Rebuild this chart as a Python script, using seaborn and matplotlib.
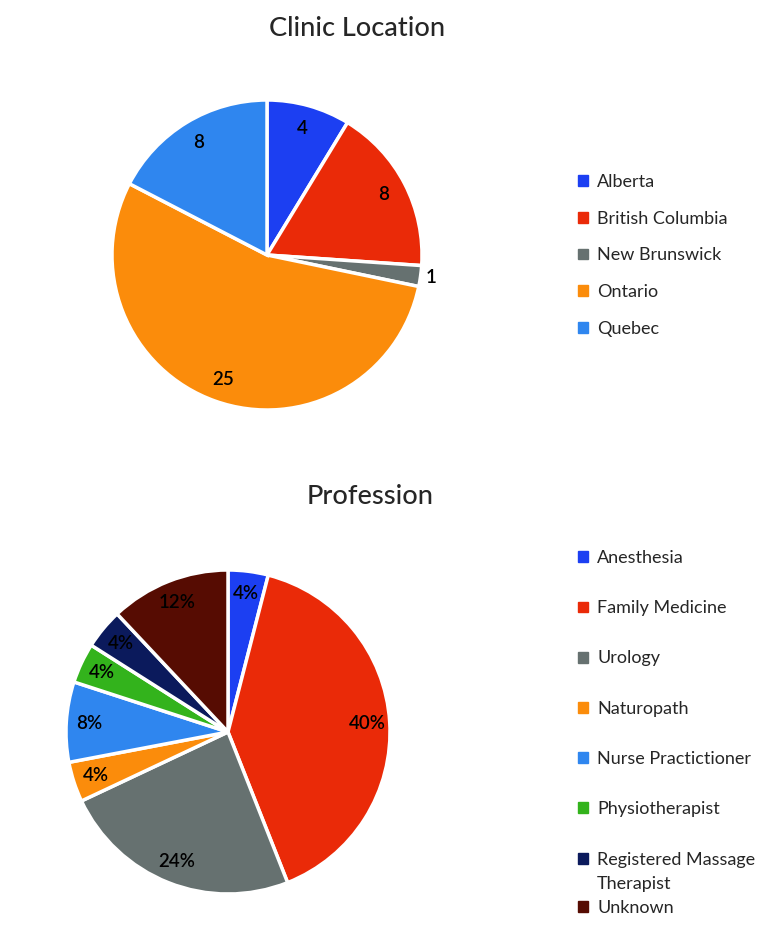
import matplotlib
matplotlib.use('Agg')

import matplotlib.pyplot as plt
import numpy as np
from matplotlib.patches import Patch

import seaborn as sns
sns.set_theme(style="white")
plt.rcParams['font.family'] = ['Lato', 'DejaVu Sans']

# data
provinces = ["Alberta", "British Columbia", "New Brunswick", "Ontario", "Quebec"]
province_counts = [4, 8, 1, 25, 8]
province_colors = ["#1c3ff2", "#ea2a08", "#667170", "#fb8c0b", "#2f86ef"]

professions = ["Anesthesia", "Family Medicine", "Urology", "Naturopath",
               "Nurse Practictioner", "Physiotherapist",
               "Registered Massage\nTherapist", "Unknown"]
profession_pct = [4, 40, 24, 4, 8, 4, 4, 12]
profession_colors = ["#1c3ff2", "#ea2a08", "#667170", "#fb8c0b",
                     "#2f86ef", "#33b31c", "#0b1a5c", "#560c02"]

fig = plt.figure(figsize=(7.8, 9.34), dpi=100)

LABEL_KW = dict(fontsize=13.5, fontweight="semibold", color="black")
LEG_KW = dict(loc="upper left", frameon=False, fontsize=13, handlelength=0.55,
              handleheight=0.55, handletextpad=0.5, borderaxespad=0)


def draw_pie(ax, values, colors, texts, dist, outside_small=None):
    wedges, _ = ax.pie(values, colors=colors, startangle=90, counterclock=False,
                       wedgeprops=dict(edgecolor="white", linewidth=2.5))
    for w, t, v in zip(wedges, texts, values):
        mid = np.deg2rad((w.theta1 + w.theta2) / 2)
        d = dist
        if outside_small is not None and v <= outside_small:
            d = 1.07
        ax.text(d * np.cos(mid), d * np.sin(mid), t, ha="center", va="center", **LABEL_KW)
    ax.set_xlim(-1, 1)
    ax.set_ylim(-1, 1)
    ax.set_aspect("equal")
    return wedges


# top pie: clinic location
ax1 = fig.add_axes([112 / 780, 1 - 410 / 934, 310 / 780, 310 / 934])
draw_pie(ax1, province_counts, province_colors,
         [str(v) for v in province_counts], 0.85, outside_small=1)
fig.text(357 / 780, 1 - 28 / 934, "Clinic Location", ha="center", va="center",
         fontsize=19.5, fontweight="medium")
handles = [Patch(color=c, label=l) for c, l in zip(province_colors, provinces)]
fig.legend(handles=handles, bbox_to_anchor=(571 / 780, 1 - 167 / 934),
           labelspacing=1.14, **LEG_KW)

# bottom pie: profession
ax2 = fig.add_axes([66 / 780, 1 - 894 / 934, 324 / 780, 324 / 934])
draw_pie(ax2, profession_pct, profession_colors,
         [f"{v}%" for v in profession_pct], 0.86)
fig.text(370 / 780, 1 - 496 / 934, "Profession", ha="center", va="center",
         fontsize=19.5, fontweight="medium")

# legend: first six entries evenly spaced, the wrapped entry and the last one packed tighter
handles = [Patch(color=c, label=l) for c, l in zip(profession_colors[:6], professions[:6])]
fig.legend(handles=handles, bbox_to_anchor=(571 / 780, 1 - 543 / 934),
           labelspacing=1.89, **LEG_KW)
rmt_lines = professions[6].split("\n")
handles = [Patch(color=profession_colors[6], label=rmt_lines[0]),
           Patch(color="none", label=rmt_lines[1]),
           Patch(color=profession_colors[7], label=professions[7])]
fig.legend(handles=handles, bbox_to_anchor=(571 / 780, 1 - 845 / 934),
           labelspacing=0.43, **LEG_KW)

plt.savefig("out.png", dpi=100)
